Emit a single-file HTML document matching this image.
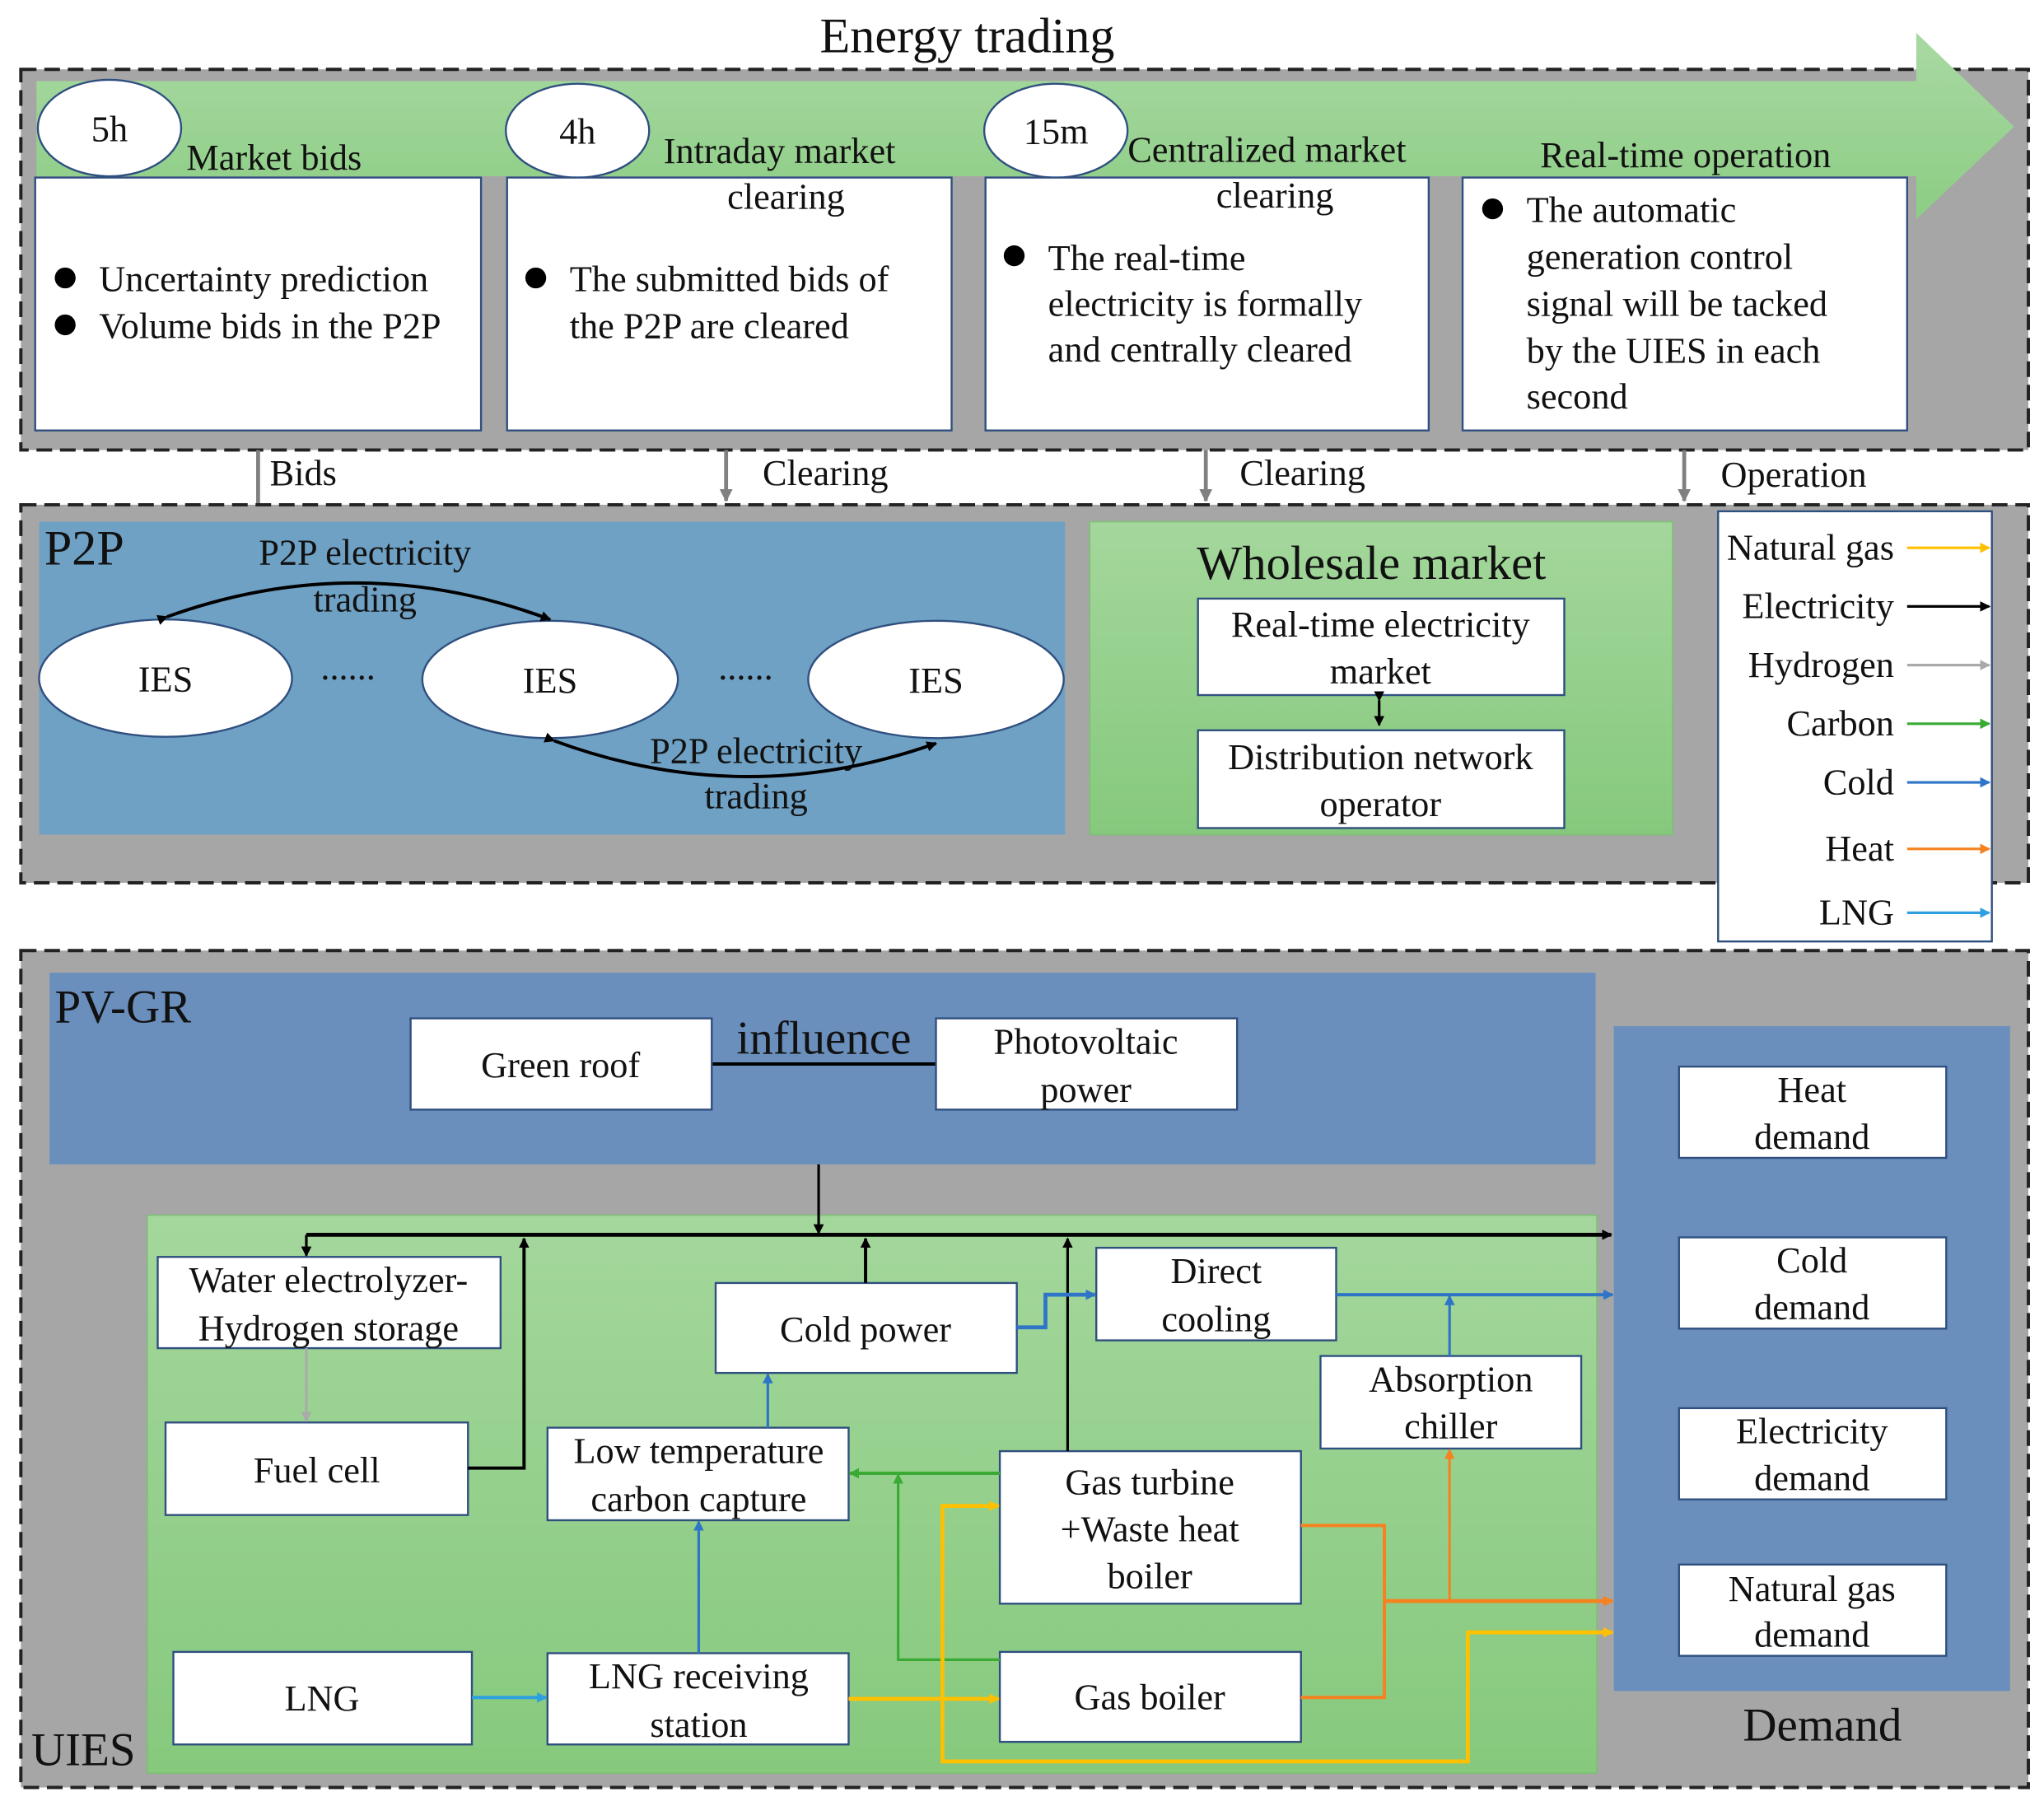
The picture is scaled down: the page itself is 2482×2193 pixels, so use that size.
<!DOCTYPE html>
<html><head><meta charset="utf-8"><style>
html,body{margin:0;padding:0;background:#fff}
svg{display:block}
text{font-family:"Liberation Serif",serif;fill:#111}
</style></head><body>
<svg width="2482" height="2193" viewBox="0 0 1568 1385" xmlns="http://www.w3.org/2000/svg">
<defs>
<linearGradient id="gb" x1="0" y1="0" x2="0" y2="1"><stop offset="0" stop-color="#a9d9a3"/><stop offset="1" stop-color="#8ccd84"/></linearGradient>
<linearGradient id="gw" x1="0" y1="0" x2="0" y2="1"><stop offset="0" stop-color="#a4d79c"/><stop offset="1" stop-color="#86c97d"/></linearGradient>
<marker id="ak" markerWidth="8" markerHeight="8" refX="7" refY="4" orient="auto" markerUnits="userSpaceOnUse"><path d="M0,0 L8,4 L0,8 z" fill="#000"/></marker>
<marker id="ag" markerWidth="10" markerHeight="10" refX="9" refY="5" orient="auto" markerUnits="userSpaceOnUse"><path d="M0,0 L10,5 L0,10 z" fill="#808080"/></marker>
<marker id="ab" markerWidth="8" markerHeight="8" refX="7" refY="4" orient="auto" markerUnits="userSpaceOnUse"><path d="M0,0 L8,4 L0,8 z" fill="#2e75c8"/></marker>
<marker id="al" markerWidth="8" markerHeight="8" refX="7" refY="4" orient="auto" markerUnits="userSpaceOnUse"><path d="M0,0 L8,4 L0,8 z" fill="#2ea0e0"/></marker>
<marker id="agr" markerWidth="8" markerHeight="8" refX="7" refY="4" orient="auto" markerUnits="userSpaceOnUse"><path d="M0,0 L8,4 L0,8 z" fill="#3aaa35"/></marker>
<marker id="ay" markerWidth="8" markerHeight="8" refX="7" refY="4" orient="auto" markerUnits="userSpaceOnUse"><path d="M0,0 L8,4 L0,8 z" fill="#ffc000"/></marker>
<marker id="ao" markerWidth="8" markerHeight="8" refX="7" refY="4" orient="auto" markerUnits="userSpaceOnUse"><path d="M0,0 L8,4 L0,8 z" fill="#f58220"/></marker>
<marker id="ah" markerWidth="8" markerHeight="8" refX="7" refY="4" orient="auto" markerUnits="userSpaceOnUse"><path d="M0,0 L8,4 L0,8 z" fill="#aaa"/></marker>
</defs>

<text x="742" y="40" font-size="38" text-anchor="middle">Energy trading</text>

<!-- top dashed -->
<rect x="16" y="53" width="1540" height="292" fill="#a6a6a6" stroke="#222" stroke-width="2.5" stroke-dasharray="12,6"/>
<path d="M28,62 H1470 V25 L1545,97 L1470,168 V135 H28 Z" fill="url(#gb)"/>
<g fill="#fff" stroke="#2f4f7f" stroke-width="1.5">
<ellipse cx="84" cy="98" rx="55" ry="37"/>
<ellipse cx="443" cy="100" rx="55" ry="36"/>
<ellipse cx="810" cy="100" rx="55" ry="36"/>
<rect x="27" y="136" width="342" height="194"/>
<rect x="389" y="136" width="341" height="194"/>
<rect x="756" y="136" width="340" height="194"/>
<rect x="1122" y="136" width="341" height="194"/>
</g>
<g font-size="28">
<text x="84" y="108" text-anchor="middle">5h</text>
<text x="443" y="110" text-anchor="middle">4h</text>
<text x="810" y="110" text-anchor="middle">15m</text>
<text x="143" y="130">Market bids</text>
<text x="509" y="125">Intraday market</text>
<text x="603" y="160" text-anchor="middle">clearing</text>
<text x="865" y="124">Centralized market</text>
<text x="978" y="159" text-anchor="middle">clearing</text>
<text x="1293" y="128" text-anchor="middle">Real-time operation</text>
<circle cx="50" cy="213" r="8" fill="#000"/><text x="76" y="223">Uncertainty prediction</text>
<circle cx="50" cy="249" r="8" fill="#000"/><text x="76" y="259">Volume bids in the P2P</text>
<circle cx="411" cy="213" r="8" fill="#000"/><text x="437" y="223">The submitted bids of</text>
<text x="437" y="259">the P2P are cleared</text>
<circle cx="778" cy="196" r="8" fill="#000"/><text x="804" y="207">The real-time</text>
<text x="804" y="242">electricity is formally</text>
<text x="804" y="277">and centrally cleared</text>
<circle cx="1145" cy="160" r="8" fill="#000"/><text x="1171" y="170">The automatic</text>
<text x="1171" y="206">generation control</text>
<text x="1171" y="242">signal will be tacked</text>
<text x="1171" y="278">by the UIES in each</text>
<text x="1171" y="313">second</text>
</g>

<!-- connectors -->
<g stroke="#808080" stroke-width="3">
<line x1="198" y1="345" x2="198" y2="387"/>
<line x1="557" y1="345" x2="557" y2="384" marker-end="url(#ag)"/>
<line x1="925" y1="345" x2="925" y2="384" marker-end="url(#ag)"/>
<line x1="1292" y1="345" x2="1292" y2="384" marker-end="url(#ag)"/>
</g>
<g font-size="28">
<text x="207" y="372">Bids</text>
<text x="585" y="372">Clearing</text>
<text x="951" y="372">Clearing</text>
<text x="1320" y="373">Operation</text>
</g>

<!-- middle dashed -->
<rect x="16" y="387" width="1540" height="290" fill="#a6a6a6" stroke="#222" stroke-width="2.5" stroke-dasharray="12,6"/>
<rect x="30" y="400" width="787" height="240" fill="#6fa1c4"/>
<rect x="836" y="400" width="447" height="240" fill="url(#gw)" stroke="#7cc073"/>
<text x="34" y="433" font-size="38">P2P</text>
<g fill="#fff" stroke="#2f4f7f" stroke-width="1.5">
<ellipse cx="127" cy="520" rx="97" ry="45"/>
<ellipse cx="422" cy="521" rx="98" ry="45"/>
<ellipse cx="718" cy="521" rx="98" ry="45"/>
</g>
<g font-size="28" text-anchor="middle">
<text x="127" y="530">IES</text><text x="422" y="531">IES</text><text x="718" y="531">IES</text>
<text x="267" y="521">......</text><text x="572" y="521">......</text>
<text x="280" y="433">P2P electricity</text><text x="280" y="469">trading</text>
<text x="580" y="585">P2P electricity</text><text x="580" y="620">trading</text>
</g>
<path d="M128,473 Q275,420 422,475" fill="none" stroke="#000" stroke-width="2.5" marker-start="url(#ak)" marker-end="url(#ak)"/>
<path d="M425,568 Q571,622 718,570" fill="none" stroke="#000" stroke-width="2.5" marker-start="url(#ak)" marker-end="url(#ak)"/>
<text x="1052" y="444" font-size="37" text-anchor="middle">Wholesale market</text>
<g fill="#fff" stroke="#2f4f7f" stroke-width="1.5">
<rect x="919" y="459" width="281" height="74"/>
<rect x="919" y="560" width="281" height="75"/>
</g>
<g font-size="28" text-anchor="middle">
<text x="1059" y="488">Real-time electricity</text><text x="1059" y="524">market</text>
<text x="1059" y="590">Distribution network</text><text x="1059" y="626">operator</text>
</g>
<line x1="1058" y1="537" x2="1058" y2="556" stroke="#000" stroke-width="2" marker-start="url(#ak)" marker-end="url(#ak)"/>

<!-- legend -->
<rect x="1318" y="392" width="210" height="330" fill="#fff" stroke="#2f4f7f" stroke-width="1.5"/>
<g font-size="28" text-anchor="end">
<text x="1453" y="429">Natural gas</text><text x="1453" y="474">Electricity</text><text x="1453" y="519">Hydrogen</text>
<text x="1453" y="564">Carbon</text><text x="1453" y="609">Cold</text><text x="1453" y="660">Heat</text><text x="1453" y="709">LNG</text>
</g>
<g stroke-width="2">
<line x1="1463" y1="420" x2="1526" y2="420" stroke="#ffc000" marker-end="url(#ay)"/>
<line x1="1463" y1="465" x2="1526" y2="465" stroke="#000" marker-end="url(#ak)"/>
<line x1="1463" y1="510" x2="1526" y2="510" stroke="#aaa" marker-end="url(#ah)"/>
<line x1="1463" y1="555" x2="1526" y2="555" stroke="#3aaa35" marker-end="url(#agr)"/>
<line x1="1463" y1="600" x2="1526" y2="600" stroke="#2e75c8" marker-end="url(#ab)"/>
<line x1="1463" y1="651" x2="1526" y2="651" stroke="#f58220" marker-end="url(#ao)"/>
<line x1="1463" y1="700" x2="1526" y2="700" stroke="#2ea0e0" marker-end="url(#al)"/>
</g>

<!-- bottom dashed -->
<rect x="16" y="729" width="1540" height="642" fill="#a6a6a6" stroke="#222" stroke-width="2.5" stroke-dasharray="12,6"/>
<rect x="38" y="746" width="1186" height="147" fill="#6a8fbd"/>
<rect x="1238" y="787" width="304" height="510" fill="#6a8fbd"/>
<rect x="113" y="932" width="1112" height="428" fill="url(#gw)" stroke="#7cc073"/>
<text x="42" y="784" font-size="36">PV-GR</text>
<text x="24" y="1354" font-size="36">UIES</text>
<text x="1398" y="1335" font-size="36" text-anchor="middle">Demand</text>
<text x="632" y="808" font-size="36" text-anchor="middle">influence</text>
<line x1="546" y1="816" x2="718" y2="816" stroke="#000" stroke-width="2.5"/>

<g fill="#fff" stroke="#2f4f7f" stroke-width="1.5">
<rect x="315" y="781" width="231" height="70"/>
<rect x="718" y="781" width="231" height="70"/>
<rect x="1288" y="818" width="205" height="70"/>
<rect x="1288" y="949" width="205" height="70"/>
<rect x="1288" y="1080" width="205" height="70"/>
<rect x="1288" y="1200" width="205" height="70"/>
<rect x="121" y="964" width="263" height="70"/>
<rect x="127" y="1091" width="232" height="71"/>
<rect x="420" y="1095" width="231" height="71"/>
<rect x="549" y="984" width="231" height="69"/>
<rect x="841" y="957" width="184" height="71"/>
<rect x="1013" y="1040" width="200" height="71"/>
<rect x="767" y="1113" width="231" height="117"/>
<rect x="133" y="1267" width="229" height="71"/>
<rect x="420" y="1268" width="231" height="70"/>
<rect x="767" y="1267" width="231" height="69"/>
</g>
<g font-size="28" text-anchor="middle">
<text x="430" y="826">Green roof</text>
<text x="833" y="808">Photovoltaic</text><text x="833" y="845">power</text>
<text x="1390" y="845">Heat</text><text x="1390" y="881">demand</text>
<text x="1390" y="976">Cold</text><text x="1390" y="1012">demand</text>
<text x="1390" y="1107">Electricity</text><text x="1390" y="1143">demand</text>
<text x="1390" y="1228">Natural gas</text><text x="1390" y="1263">demand</text>
<text x="252" y="991">Water electrolyzer-</text><text x="252" y="1028">Hydrogen storage</text>
<text x="243" y="1137">Fuel cell</text>
<text x="536" y="1122">Low temperature</text><text x="536" y="1159">carbon capture</text>
<text x="664" y="1029">Cold power</text>
<text x="933" y="984">Direct</text><text x="933" y="1021">cooling</text>
<text x="1113" y="1067">Absorption</text><text x="1113" y="1103">chiller</text>
<text x="882" y="1146">Gas turbine</text><text x="882" y="1182">+Waste heat</text><text x="882" y="1218">boiler</text>
<text x="247" y="1312">LNG</text>
<text x="536" y="1295">LNG receiving</text><text x="536" y="1332">station</text>
<text x="882" y="1311">Gas boiler</text>
</g>

<!-- electricity -->
<g stroke="#000" fill="none">
<line x1="235" y1="947" x2="1236" y2="947" stroke-width="3" marker-end="url(#ak)"/>
<line x1="628" y1="893" x2="628" y2="946" stroke-width="2" marker-end="url(#ak)"/>
<line x1="235" y1="947" x2="235" y2="963" stroke-width="2" marker-end="url(#ak)"/>
<polyline points="359,1126 402,1126 402,950" stroke-width="2.5" marker-end="url(#ak)"/>
<line x1="664" y1="984" x2="664" y2="950" stroke-width="2.5" marker-end="url(#ak)"/>
<line x1="819" y1="1113" x2="819" y2="950" stroke-width="2" marker-end="url(#ak)"/>
</g>
<line x1="235" y1="1034" x2="235" y2="1090" stroke="#aaa" stroke-width="2" marker-end="url(#ah)"/>
<!-- cold -->
<g stroke="#2e75c8" fill="none" stroke-width="2">
<polyline points="780,1018 802,1018 802,993 840,993" stroke-width="3" marker-end="url(#ab)"/>
<line x1="1025" y1="993" x2="1237" y2="993" stroke-width="2.5" marker-end="url(#ab)"/>
<line x1="1112" y1="1040" x2="1112" y2="994" marker-end="url(#ab)"/>
<line x1="589" y1="1095" x2="589" y2="1054" marker-end="url(#ab)"/>
<line x1="536" y1="1268" x2="536" y2="1167" marker-end="url(#ab)"/>
</g>
<line x1="362" y1="1302" x2="419" y2="1302" stroke="#2ea0e0" stroke-width="2.5" marker-end="url(#al)"/>
<!-- carbon -->
<g stroke="#3aaa35" fill="none" stroke-width="2.5">
<line x1="767" y1="1130" x2="652" y2="1130" marker-end="url(#agr)"/>
<polyline points="767,1273 689,1273 689,1131" stroke-width="2" marker-end="url(#agr)"/>
</g>
<!-- gas -->
<g stroke="#ffc000" fill="none" stroke-width="3">
<line x1="651" y1="1303" x2="766" y2="1303" marker-end="url(#ay)"/>
<polyline points="723,1303 723,1155 766,1155" marker-end="url(#ay)"/>
<polyline points="723,1303 723,1351 1126,1351 1126,1252 1237,1252" marker-end="url(#ay)"/>
</g>
<!-- heat -->
<g stroke="#f58220" fill="none" stroke-width="2.5">
<polyline points="998,1170 1062,1170 1062,1302 998,1302"/>
<line x1="1062" y1="1228" x2="1237" y2="1228" stroke-width="3" marker-end="url(#ao)"/>
<line x1="1112" y1="1228" x2="1112" y2="1112" stroke-width="2" marker-end="url(#ao)"/>
</g>
</svg>
</body></html>
